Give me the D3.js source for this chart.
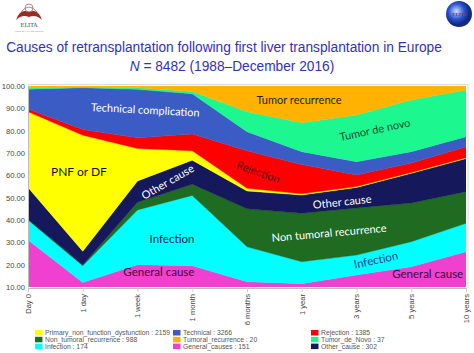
<!DOCTYPE html>
<html>
<head>
<meta charset="utf-8">
<script src="https://cdn.jsdelivr.net/npm/d3@7"></script>
<style>
body { margin: 0; background: #fff; }
svg { display: block; }
</style>
</head>
<body>
<script>
// time points after first transplantation
var categories = ["Day 0", "1 day", "1 week", "1 month", "6 months", "1 year", "3 years", "5 years", "10 years"];

// percent of retransplants per cause (stacked bottom -> top)
var generalCause     = [31,   12,   20,   19.5, 12.4, 11.5, 15.4, 19.1, 25.8];
var infection        = [9,    7.5,  24.5, 31.5, 15.6, 9.8,  8.9,  11.2, 12.7];
var nonTumoral       = [0.3,  0.3,  3.5,  5,    17,   21.7, 21.1, 17.3, 14.2];
var otherCause       = [14.2, 6.2,  9.5,  10.8, 8,    8.2,  9.2,  13.3, 14.8];
var pnf              = [34,   52,   14.5, 4.2,  1.2,  0.5,  0.4,  0.4,  0.4];
var rejection        = [1.2,  2.5,  4.8,  7.5,  16.8, 13.1, 5.2,  4.2,  4.9];
var technical        = [8.9,  18.7, 21.7, 18,   8.5,  5.8,  5.9,  5.1,  4.5];
var tumorDeNovo      = [0.6,  0.3,  0.7,  1,    9,    12.9, 20.9, 23.1, 20.9];
var tumorRecurrence  = [0.8,  0.5,  0.8,  2.5,  11.5, 16.5, 13,   6.3,  1.8];

var yTicks = [10, 20, 30, 40, 50, 60, 70, 80, 90, 100];

var legendLabels = [
  "Primary_non_function_dysfunction : 2159", "Technical : 3266", "Rejection : 1385",
  "Non_tumoral_recurrence : 988", "Tumoral_recurrence : 20", "Tumor_de_Novo : 37",
  "Infection : 174", "General_causes : 151", "Other_cause : 302"
];
var legendKeys = ["pnf", "technical", "rejection", "nonTumoral", "tumorRecurrence", "tumorDeNovo", "infection", "generalCause", "otherCause"];

var keys = ["generalCause", "infection", "nonTumoral", "otherCause", "pnf", "rejection", "technical", "tumorDeNovo", "tumorRecurrence"];
var series = {
  generalCause: generalCause, infection: infection, nonTumoral: nonTumoral,
  otherCause: otherCause, pnf: pnf, rejection: rejection, technical: technical,
  tumorDeNovo: tumorDeNovo, tumorRecurrence: tumorRecurrence
};
var colors = {
  generalCause: "#f040d0", infection: "#00ffff", nonTumoral: "#1f6b22",
  otherCause: "#15185a", pnf: "#ffff00", rejection: "#ff0000",
  technical: "#3a5cc4", tumorDeNovo: "#1cf790", tumorRecurrence: "#ffb300"
};

var table = categories.map(function(c, i) {
  var row = { cat: c };
  keys.forEach(function(k) { row[k] = series[k][i]; });
  return row;
});

var W = 474, H = 353;
var svg = d3.select("body").append("svg").attr("width", W).attr("height", H);

var x = d3.scalePoint().domain(categories).range([28, 466]);
var y = d3.scaleLinear().domain([10, 100]).range([287, 86]);
var step = x.step();

// title, sized so the first line spans about 436px like the slide
var title = svg.append("g").attr("fill", "#3232b8").attr("font-family", "Liberation Sans, Arial, sans-serif");
var t1 = title.append("text").attr("x", 224).attr("y", 52).attr("text-anchor", "middle")
  .attr("font-size", 15).text("Causes of retransplantation following first liver transplantation in Europe");
var fs = 15 * 436 / t1.node().getComputedTextLength();
t1.attr("font-size", fs);
var t2 = title.append("text").attr("x", 232).attr("y", 71).attr("text-anchor", "middle").attr("font-size", fs);
t2.append("tspan").attr("font-style", "italic").text("N");
t2.append("tspan").text(" = 8482 (1988\u2013December 2016)");

// logos (rough)
var logo = svg.append("g");
logo.append("path").attr("d", "M16,20 Q20,8 29,12 Q38,8 42,20 Q36,14 29,17 Q22,14 16,20 Z").attr("fill", "#9b2a22");
logo.append("path").attr("d", "M21,12 Q29,2 37,12").attr("fill", "none").attr("stroke", "#b88").attr("stroke-width", 1);
logo.append("circle").attr("cx", 29).attr("cy", 8).attr("r", 4).attr("fill", "none").attr("stroke", "#a66").attr("stroke-width", 0.8);
logo.append("text").attr("x", 29).attr("y", 27).attr("text-anchor", "middle").attr("font-size", 5.5)
  .attr("font-family", "DejaVu Serif, serif").attr("fill", "#444").text("ELITA");
logo.append("text").attr("x", 29).attr("y", 32).attr("text-anchor", "middle").attr("font-size", 2.5)
  .attr("fill", "#777").text("European Liver and Intestine");

var grad = svg.append("defs").append("radialGradient").attr("id", "globe").attr("cx", "40%").attr("cy", "40%");
grad.append("stop").attr("offset", "0%").attr("stop-color", "#cfe0ff");
grad.append("stop").attr("offset", "60%").attr("stop-color", "#2b55d0");
grad.append("stop").attr("offset", "100%").attr("stop-color", "#102a80");
svg.append("circle").attr("cx", 459).attr("cy", 14).attr("r", 13).attr("fill", "url(#globe)");
svg.append("text").attr("x", 459).attr("y", 16).attr("text-anchor", "middle").attr("font-size", 5)
  .attr("font-weight", "bold").attr("fill", "#c02040").text("ELTR");

// stacked areas
svg.append("clipPath").attr("id", "plotclip").append("rect")
  .attr("x", 28).attr("y", y(100)).attr("width", 466 - 28).attr("height", y(10) - y(100));

var stack = d3.stack().keys(keys)(table);
var area = d3.area()
  .x(function(d) { return x(d.data.cat); })
  .y0(function(d) { return y(d[0]); })
  .y1(function(d) { return y(d[1]); });

svg.append("g").attr("clip-path", "url(#plotclip)")
  .selectAll("path").data(stack).enter().append("path")
  .attr("d", area)
  .attr("fill", function(d) { return colors[d.key]; })
  .attr("stroke", function(d) { return colors[d.key]; })
  .attr("stroke-width", 0.4);

// frame
svg.append("path").attr("d", "M28," + (y(100) - 1.5) + "H468V288")
  .attr("fill", "none").attr("stroke", "#d9d9d9").attr("stroke-width", 1);

// axes
var yAxis = svg.append("g").attr("transform", "translate(28,0)")
  .call(d3.axisLeft(y).tickValues(yTicks).tickSize(0).tickPadding(3).tickFormat(d3.format(".2f")));
yAxis.select(".domain").attr("stroke", "#bbb");
yAxis.selectAll("text").attr("font-size", 7.6).attr("fill", "#444").attr("font-family", "Liberation Sans, Arial, sans-serif");

var xAxis = svg.append("g").attr("transform", "translate(0,288)")
  .call(d3.axisBottom(x).tickSize(4).tickSizeOuter(0));
xAxis.select(".domain").attr("stroke", "#bbb");
xAxis.selectAll("line").attr("stroke", "#ccc");
xAxis.selectAll("text")
  .attr("font-size", 7.6).attr("fill", "#444").attr("font-family", "Liberation Sans, Arial, sans-serif")
  .attr("transform", "rotate(-90)")
  .attr("text-anchor", "end").attr("dy", "0.32em").attr("x", -6).attr("y", 0);

// area labels, placed in data units (category index, value)
function lx(i) { return x(categories[0]) + i * step; }
var notes = [
  { t: "Technical complication", i: 2.14, v: 88.8, r: 3, c: "#fff", s: 11 },
  { t: "PNF or DF", i: 0.93, v: 61, r: 0, c: "#111", s: 12 },
  { t: "Other cause", i: 2.56, v: 56.6, r: -30, c: "#fff", s: 11 },
  { t: "Rejection", i: 4.2, v: 61, r: 20, c: "#5a0a12", s: 11 },
  { t: "Tumor recurrence", i: 4.95, v: 93.3, r: 0, c: "#222", s: 11 },
  { t: "Tumor de novo", i: 6.34, v: 79.9, r: -12, c: "#0b4a2b", s: 11 },
  { t: "Other cause", i: 5.74, v: 47.6, r: -6, c: "#fff", s: 11 },
  { t: "Non tumoral recurrence", i: 5.5, v: 33.7, r: -5, c: "#fff", s: 11 },
  { t: "Infection", i: 2.63, v: 31, r: 0, c: "#15154a", s: 11.5 },
  { t: "General cause", i: 2.39, v: 16.3, r: 0, c: "#3e0a3e", s: 11.5 },
  { t: "Infection", i: 6.36, v: 21.6, r: -12, c: "#1b3a8a", s: 11.5 },
  { t: "General cause", i: 7.3, v: 15.4, r: 0, c: "#3e0a3e", s: 11.5 }
];
svg.append("g").selectAll("text").data(notes).enter().append("text")
  .attr("transform", function(d) { return "translate(" + lx(d.i) + "," + y(d.v) + ") rotate(" + d.r + ")"; })
  .attr("text-anchor", "middle").attr("dominant-baseline", "middle")
  .attr("font-family", "Lato, Open Sans, sans-serif")
  .attr("font-size", function(d) { return d.s; })
  .attr("fill", function(d) { return d.c; })
  .text(function(d) { return d.t; });

// legend, 3 columns
var colX = [35, 173, 311];
var legend = svg.append("g").attr("font-family", "Liberation Sans, Arial, sans-serif").attr("font-size", 6.8).attr("fill", "#555");
legendLabels.forEach(function(lab, i) {
  var col = i % 3, row = Math.floor(i / 3);
  var ly = 333 + row * 6.8;
  legend.append("rect").attr("x", colX[col]).attr("y", ly - 3).attr("width", 7.5).attr("height", 5.5)
    .attr("fill", colors[legendKeys[i]]);
  legend.append("text").attr("x", colX[col] + 10).attr("y", ly + 2.2).text(lab);
});
</script>
</body>
</html>
